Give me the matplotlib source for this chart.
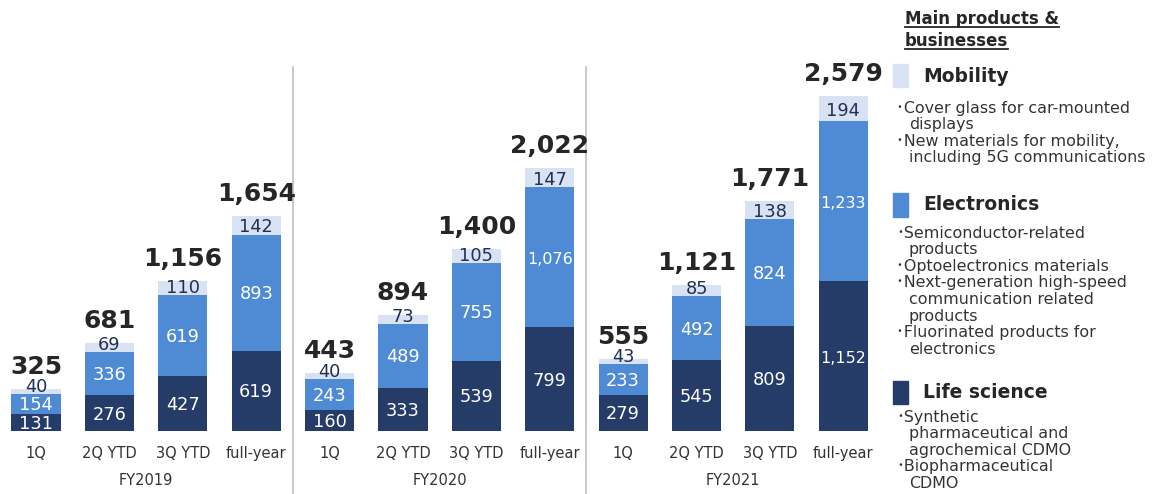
import matplotlib
matplotlib.use("Agg")
import matplotlib.pyplot as plt
from matplotlib.patches import Rectangle
from matplotlib.lines import Line2D
from matplotlib.transforms import blended_transform_factory

plt.rcParams['font.family'] = ['DejaVu Sans', 'Noto Sans CJK JP']

# ---- data (100 million yen) ----
fiscal_years = ["FY2019", "FY2020", "FY2021"]
periods = ["1Q", "2Q YTD", "3Q YTD", "full-year"]
life_science = [131, 276, 427, 619, 160, 333, 539, 799, 279, 545, 809, 1152]
electronics = [154, 336, 619, 893, 243, 489, 755, 1076, 233, 492, 824, 1233]
mobility = [40, 69, 110, 142, 40, 73, 105, 147, 43, 85, 138, 194]
totals = [325, 681, 1156, 1654, 443, 894, 1400, 2022, 555, 1121, 1771, 2579]

mobility_items = [["Cover glass for car-mounted", "displays"],
                  ["New materials for mobility,", "including 5G communications"]]
electronics_items = [["Semiconductor-related", "products"],
                     ["Optoelectronics materials"],
                     ["Next-generation high-speed", "communication related", "products"],
                     ["Fluorinated products for", "electronics"]]
life_items = [["Synthetic", "pharmaceutical and", "agrochemical CDMO"],
              ["Biopharmaceutical", "CDMO"]]

# ---- style ----
C_LIFE = "#253B68"
C_ELEC = "#4F8BD5"
C_MOB = "#D9E2F3"
C_TEXT = "#262626"
C_MOB_TEXT = "#1F2F57"

W, H = 1158, 494
fig = plt.figure(figsize=(W / 100, H / 100), dpi=100)
ax = fig.add_axes([0, 63 / H, 880 / W, 431 / H])
ax.set_xlim(-0.49, 11.5)
ax.set_ylim(0, 3318)
ax.axis("off")

n = len(totals)
xs = list(range(n))
bw = 0.67

bottom_elec = life_science
bottom_mob = [a + b for a, b in zip(life_science, electronics)]
ax.bar(xs, life_science, bw, color=C_LIFE)
ax.bar(xs, electronics, bw, bottom=bottom_elec, color=C_ELEC)
ax.bar(xs, mobility, bw, bottom=bottom_mob, color=C_MOB)

px_per_unit = 431 / 3318.0


def seg_label(x, base, h, color, value):
    size = 11.5 if value >= 1000 else 12.8
    mid_off = h * px_per_unit / 2
    ax.annotate(f"{value:,}", xy=(x, base), xytext=(0, mid_off - 6.5),
                textcoords="offset pixels", ha="center", va="baseline",
                fontsize=size, color=color)


for i in xs:
    seg_label(i, 0, life_science[i], "white", life_science[i])
    seg_label(i, bottom_elec[i], electronics[i], "white", electronics[i])
    # light segment: keep label above its bottom edge when the segment is thin
    h_px = mobility[i] * px_per_unit
    off = max(h_px / 2 - 7, 2)
    ax.annotate(f"{mobility[i]:,}", xy=(i, bottom_mob[i]), xytext=(0, off),
                textcoords="offset pixels", ha="center", va="baseline",
                fontsize=12.8, color=C_MOB_TEXT)
    top = bottom_mob[i] + mobility[i]
    ax.annotate(f"{totals[i]:,}", xy=(i, top), xytext=(0, 15),
                textcoords="offset pixels", ha="center", va="baseline",
                fontsize=18, fontweight="bold", color=C_TEXT)

# period labels under each bar
trans = blended_transform_factory(ax.transData, ax.transAxes)
for i in xs:
    ax.annotate(periods[i % 4], xy=(i, 0), xycoords=trans, xytext=(0, -22),
                textcoords="offset pixels", ha="center", va="center",
                fontsize=10.5, color="#333333", annotation_clip=False)

# fiscal year labels and separators
for g, fy in enumerate(fiscal_years):
    cx = g * 4 + 1.5
    ax.annotate(fy, xy=(cx, 0), xycoords=trans, xytext=(0, -49),
                textcoords="offset pixels", ha="center", va="center",
                fontsize=10.5, color="#333333", annotation_clip=False)
    if g > 0:
        ax.plot([g * 4 - 0.5] * 2, [-0.16, 0.845], transform=trans,
                color="#BFBFBF", lw=1.2, clip_on=False)


# ---- legend panel ----
def fpos(x, y):
    return (x / W, 1 - y / H)


t1 = fig.text(*fpos(905, 19), "Main products &", fontsize=12, fontweight="bold",
              va="center", ha="left", color=C_TEXT)
t2 = fig.text(*fpos(905, 41), "businesses", fontsize=12, fontweight="bold",
              va="center", ha="left", color=C_TEXT)

groups = [
    ("Mobility", C_MOB, 76, 108, mobility_items),
    ("Electronics", C_ELEC, 205, 233, electronics_items),
    ("Life science", C_LIFE, 392, 417, life_items),
]
step = 16.6
for title, color, ty, ly, items in groups:
    x0, y0 = fpos(893, ty + 11.5)
    fig.patches.append(Rectangle((x0, y0), 15 / W, 23 / H,
                                 transform=fig.transFigure, color=color))
    fig.text(*fpos(923, ty), title, fontsize=13.5, fontweight="bold",
             va="center", ha="left", color=C_TEXT)
    y = ly
    for item in items:
        for k, line in enumerate(item):
            if k == 0:
                fig.text(*fpos(896, y), "･" + line, fontsize=11.4,
                         va="center", ha="left", color="#333333")
            else:
                fig.text(*fpos(909, y), line, fontsize=11.4,
                         va="center", ha="left", color="#333333")
            y += step

# underline the panel heading
fig.canvas.draw()
renderer = fig.canvas.get_renderer()
for t in (t1, t2):
    bb = t.get_window_extent(renderer)
    yline = bb.y0 + 1
    fig.add_artist(Line2D([bb.x0 / W, bb.x1 / W], [yline / H, yline / H],
                          transform=fig.transFigure, color=C_TEXT, lw=1.3))

fig.savefig("out.png", dpi=100)
